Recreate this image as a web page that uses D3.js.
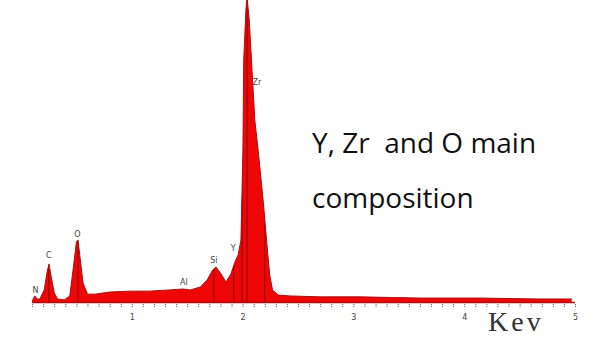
<!DOCTYPE html>
<html>
<head>
<meta charset="utf-8">
<script src="https://cdn.jsdelivr.net/npm/d3@7"></script>
<style>
  body { margin: 0; background: #fff; }
  svg { display: block; }
</style>
</head>
<body>
<div id="chart"></div>
<script>
// EDS spectrum (energy in keV, counts in arbitrary units)
const energy = [0.10, 0.126, 0.144, 0.17, 0.21, 0.235, 0.253, 0.27, 0.30, 0.33, 0.39, 0.44, 0.47, 0.50, 0.515, 0.53, 0.56, 0.60,
  0.67, 0.80, 0.98, 1.16, 1.34, 1.46, 1.53, 1.62, 1.68, 1.73, 1.76, 1.80, 1.85, 1.895, 1.93, 1.96, 1.985,
  2.003, 2.01, 2.03, 2.04, 2.06, 2.085, 2.11, 2.14, 2.185, 2.22, 2.245, 2.27, 2.32, 2.43, 2.7, 3.06, 3.6, 4.14, 4.68, 4.97];
const counts = [3, 20, 10, 10, 40, 99, 126, 89, 30, 10, 7, 20, 106, 199, 205, 156, 63, 26,
  26, 33, 36, 36, 40, 43, 40, 50, 73, 106, 116, 96, 66, 93, 132, 156, 205,
  503, 801, 967, 1010, 934, 768, 603, 503, 338, 189, 89, 40, 23, 20, 17, 17, 13, 13, 10, 10];

// element labels
const peakNames = ["N", "C", "O", "Al", "Si", "Y", "Zr"];
const peakEnergy = [0.13, 0.25, 0.51, 1.47, 1.74, 1.915, 2.13];
const peakLabelCount = [30, 145, 215, 55, 130, 170, 720];

// KLM marker lines (keV)
const markers = [0.25, 0.515, 1.74, 1.92, 1.995, 2.04, 2.2];

const majorTicks = [1, 2, 3, 4, 5];

const width = 606, height = 338;
const xLeft = 21, xRight = 575, base = 302, yTop = 0;

const svg = d3.select("#chart").append("svg")
  .attr("width", width)
  .attr("height", height);

const x = d3.scaleLinear().domain([0, 5]).range([xLeft, xRight]);
const y = d3.scaleLinear().domain([0, 1000]).range([base, yTop]);

const pts = energy.map((e, i) => ({e: e, c: counts[i]}));

const area = d3.area()
  .x(d => x(d.e))
  .y0(y(0))
  .y1(d => y(d.c));

const line = d3.line()
  .x(d => x(d.e))
  .y(d => y(d.c));

svg.append("clipPath").attr("id", "spec")
  .append("path").attr("d", area(pts));

svg.append("path")
  .attr("d", area(pts))
  .attr("fill", "#ef0606");

// dark marker lines inside the spectrum
svg.append("g").attr("clip-path", "url(#spec)")
  .selectAll("line")
  .data(markers)
  .join("line")
  .attr("x1", d => x(d)).attr("x2", d => x(d))
  .attr("y1", y(0)).attr("y2", y(1000))
  .attr("stroke", "#8a0a0a")
  .attr("stroke-width", 1);

svg.append("path")
  .attr("d", line(pts))
  .attr("fill", "none")
  .attr("stroke", "#b00d0d")
  .attr("stroke-width", 1);

// baseline
svg.append("line")
  .attr("x1", x(0.1)).attr("x2", x(5))
  .attr("y1", base + 0.5).attr("y2", base + 0.5)
  .attr("stroke", "#b00d0d").attr("stroke-width", 1.5);

// axis with 0.1 keV minor ticks
const xAxis = d3.axisBottom(x)
  .tickValues(d3.range(1, 51).map(i => i / 10))
  .tickSize(3)
  .tickFormat(d => majorTicks.includes(Math.round(d * 10) / 10) ? d3.format("d")(d) : "");
const gX = svg.append("g")
  .attr("transform", "translate(0," + (base + 2) + ")")
  .call(xAxis);
gX.select(".domain").remove();
gX.selectAll(".tick line").attr("stroke", "#666").attr("stroke-dasharray", "1,1");
gX.selectAll(".tick text")
  .attr("y", 10)
  .attr("fill", "#444")
  .style("font-family", "DejaVu Sans")
  .style("font-size", "8px");

// peak labels
svg.append("g").selectAll("text")
  .data(peakNames)
  .join("text")
  .attr("x", (d, i) => x(peakEnergy[i]))
  .attr("y", (d, i) => y(peakLabelCount[i]))
  .attr("text-anchor", "middle")
  .attr("fill", "#444")
  .style("font-family", "DejaVu Sans")
  .style("font-size", "8px")
  .text(d => d);

// unit label
svg.append("text")
  .attr("x", 488)
  .attr("y", 331)
  .attr("fill", "#333")
  .style("font-family", "Liberation Serif")
  .style("font-size", "28px")
  .style("letter-spacing", "3px")
  .text("Kev");

// annotation
const note = svg.append("text")
  .attr("fill", "#111")
  .style("font-family", "'Comic Sans MS', 'Open Sans', sans-serif")
  .style("font-size", "28px");
note.append("tspan").attr("x", 312).attr("y", 153).style("white-space", "pre").text("Y, Zr  and O main");
note.append("tspan").attr("x", 312).attr("y", 208).text("composition");
</script>
</body>
</html>
